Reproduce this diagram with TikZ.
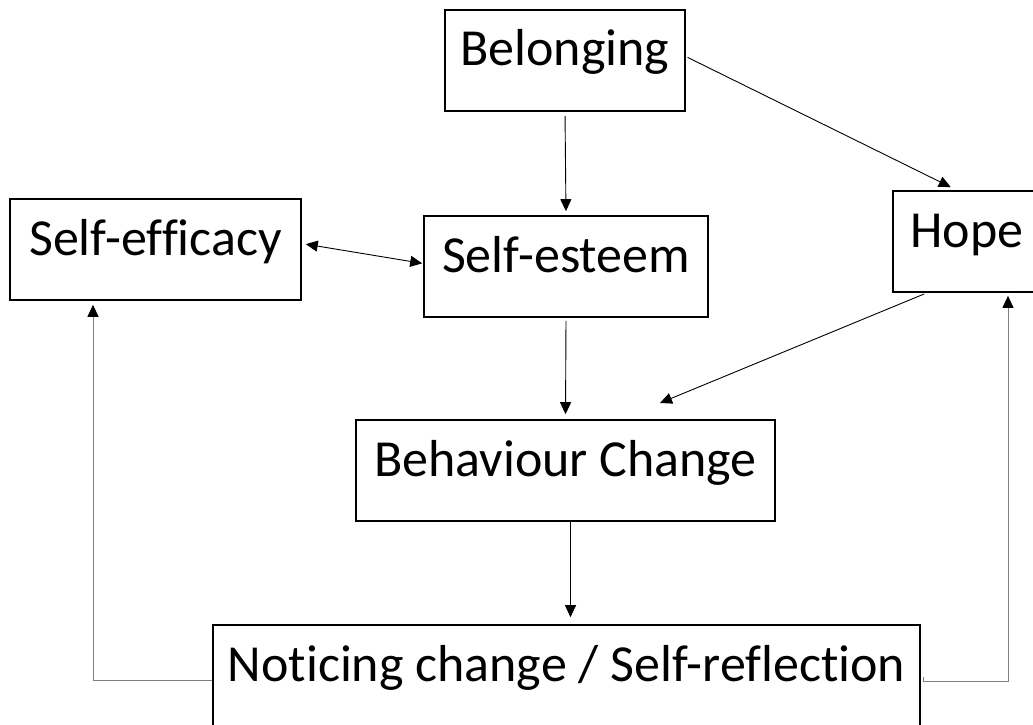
\documentclass[tikz,border=0pt]{standalone}
\usepackage{fontspec}
\setmainfont{Carlito}[Ligatures=NoCommon]
\usetikzlibrary{arrows.meta}

\begin{document}
\begin{tikzpicture}[x=1pt,y=-1pt,
		>={Triangle[length=12pt,width=11pt,color=black]},
		box/.style={draw, line width=1.6pt, inner sep=0pt, text height=56pt, text depth=45pt, font=\fontsize{52}{62}\selectfont},
		link/.style={->, line width=0.9pt},
		back/.style={link, draw=gray}]
			\useasboundingbox (0,0) rectangle (1033,725);
			\clip (0,0) rectangle (1033,725);

			\node [box, minimum width=240pt](bel) at (565,60.5) {Belonging};
			\node [box, minimum width=291pt](eff) at (155.5,249.5) {Self-efficacy};
			\node [box, minimum width=284pt](est) at (566,266.5) {Self-esteem};
			\node [box, minimum width=148pt](hope) at (967,241.5) {Hope};
			\node [box, minimum width=419pt](beh) at (565.5,470.5) {Behaviour Change};
			\node [box, minimum width=707pt](note) at (566.5,675.5) {Noticing change / Self-reflection};
			\coordinate (hb) at (660,403);

			\draw [link, shorten <=4pt, shorten >=4pt](bel.south) -- (est.north);
			\draw [link, shorten <=2pt, shorten >=7pt]([yshift=4pt]bel.east) -- ([xshift=-10pt]hope.north);
			\draw [link, <->, shorten <=4pt, shorten >=1pt]([yshift=6pt]eff.east) -- ([yshift=3pt]est.west);

			\draw [link, shorten <=3pt, shorten >=5pt](est.south) -- (beh.north);
			\draw [link, shorten <=3pt]([xshift=-40pt]hope.south) -- (hb);
			\draw [link, shorten >=7pt]([xshift=5pt]beh.south) -- ([xshift=5pt]beh.south |- note.north);

			\draw [back, shorten >=4pt]([yshift=-4.5pt]note.west) -| ([xshift=-62.5pt]eff.south);
			\draw [back, shorten >=3pt]([xshift=3pt,yshift=-1.5pt]note.east) -- ++(0,4) -| ([xshift=41pt]hope.south);

		\end{tikzpicture}
\end{document}
